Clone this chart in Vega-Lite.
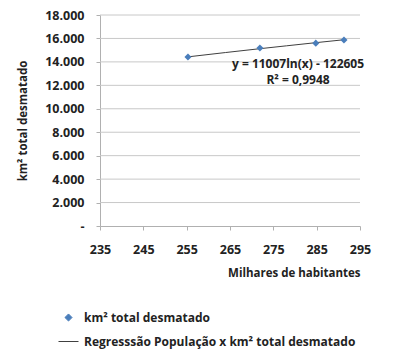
{
  "$schema": "https://vega.github.io/schema/vega-lite/v6.json",
  "autosize": "none",
  "width": 260,
  "height": 211,
  "padding": {"left": 100, "top": 15, "right": 40, "bottom": 125},
  "background": "white",
  "config": {
    "view": {"stroke": null},
    "font": "Open Sans",
    "axis": {"labelFont": "Open Sans", "labelFontWeight": "bold", "labelFontSize": 12.5, "labelColor": "#222", "titleFont": "Open Sans", "titleFontWeight": "bold", "titleFontSize": 11.5, "titleColor": "#222", "domainColor": "#b0b0b0", "tickColor": "#b0b0b0", "labelOverlap": false, "labelFlush": false, "grid": false}
  },
  "datasets": {
    "gridv": [
      {"km2": 2000}, {"km2": 4000}, {"km2": 6000}, {"km2": 8000}, {"km2": 10000},
      {"km2": 12000}, {"km2": 14000}, {"km2": 16000}, {"km2": 18000}
    ],
    "obs": [
      {"pop": 255.3, "km2": 14420, "series": "km² total desmatado"},
      {"pop": 271.9, "km2": 15190, "series": "km² total desmatado"},
      {"pop": 284.8, "km2": 15600, "series": "km² total desmatado"},
      {"pop": 291.3, "km2": 15870, "series": "km² total desmatado"}
    ],
    "fit": [
      {"pop": 255.3, "km2": 14430, "series": "Regresssão População x km² total desmatado"},
      {"pop": 264.0, "km2": 14799, "series": "Regresssão População x km² total desmatado"},
      {"pop": 271.9, "km2": 15126, "series": "Regresssão População x km² total desmatado"},
      {"pop": 278.0, "km2": 15370, "series": "Regresssão População x km² total desmatado"},
      {"pop": 284.8, "km2": 15640, "series": "Regresssão População x km² total desmatado"},
      {"pop": 291.3, "km2": 15889, "series": "Regresssão População x km² total desmatado"}
    ],
    "annot": [
      {"t": "y = 11007ln(x) - 122605", "pop": 280.7, "km2": 13820},
      {"t": "R² = 0,9948", "pop": 280.7, "km2": 12455}
    ]
  },
  "layer": [
    {
      "data": {"name": "gridv"},
      "mark": {"type": "rule", "color": "#c8c8c8", "strokeWidth": 1},
      "encoding": {
        "y": {"field": "km2", "type": "quantitative", "scale": {"domain": [0, 18000], "nice": false},
          "axis": {"values": [0, 2000, 4000, 6000, 8000, 10000, 12000, 14000, 16000, 18000], "tickSize": 4, "labelPadding": 12, "labelOverlap": false,
            "labelExpr": "datum.value == 0 ? '-' : replace(format(datum.value, ','), ',', '.')",
            "title": "km² total desmatado", "titlePadding": 16}}
      }
    },
    {
      "data": {"name": "fit"},
      "mark": {"type": "line", "strokeWidth": 1},
      "encoding": {
        "x": {"field": "pop", "type": "quantitative", "scale": {"domain": [235, 295], "nice": false, "zero": false},
          "axis": {"values": [235, 245, 255, 265, 275, 285, 295], "tickSize": 4, "labelPadding": 13, "labelOverlap": false, "title": "Milhares de habitantes", "titleAnchor": "end", "titlePadding": 12}},
        "y": {"field": "km2", "type": "quantitative",
          "axis": {"values": [0, 2000, 4000, 6000, 8000, 10000, 12000, 14000, 16000, 18000], "tickSize": 4, "labelPadding": 12, "labelOverlap": false,
            "labelExpr": "datum.value == 0 ? '-' : replace(format(datum.value, ','), ',', '.')",
            "title": "km² total desmatado", "titlePadding": 16}},
        "color": {"field": "series", "type": "nominal",
          "scale": {"domain": ["km² total desmatado", "Regresssão População x km² total desmatado"], "range": ["#4A7EBB", "#404040"]},
          "legend": {"title": null, "orient": "none", "legendX": -42, "legendY": 292, "direction": "vertical", "padding": 0,
            "labelFont": "Open Sans", "labelFontWeight": "bold", "labelFontSize": 12, "labelColor": "#222", "labelLimit": 400, "symbolSize": 60, "rowPadding": 7, "labelOffset": 5, "symbolStrokeWidth": 1,
            "encode": {"symbols": {"update": {"size": {"signal": "datum.value == 'km² total desmatado' ? 50 : 400"}}}}}}
      }
    },
    {
      "data": {"name": "obs"},
      "mark": {"type": "point", "filled": true, "size": 50, "opacity": 1},
      "encoding": {
        "x": {"field": "pop", "type": "quantitative",
          "axis": {"values": [235, 245, 255, 265, 275, 285, 295], "tickSize": 4, "labelPadding": 13, "labelOverlap": false, "title": "Milhares de habitantes", "titleAnchor": "end", "titlePadding": 12}},
        "y": {"field": "km2", "type": "quantitative",
          "axis": {"values": [0, 2000, 4000, 6000, 8000, 10000, 12000, 14000, 16000, 18000], "tickSize": 4, "labelPadding": 12, "labelOverlap": false,
            "labelExpr": "datum.value == 0 ? '-' : replace(format(datum.value, ','), ',', '.')",
            "title": "km² total desmatado", "titlePadding": 16}},
        "color": {"field": "series", "type": "nominal"},
        "shape": {"field": "series", "type": "nominal",
          "scale": {"domain": ["km² total desmatado", "Regresssão População x km² total desmatado"], "range": ["diamond", "stroke"]}}
      }
    },
    {
      "data": {"name": "annot"},
      "mark": {"type": "text", "fontWeight": "bold", "fontSize": 12, "color": "#222", "font": "Open Sans"},
      "encoding": {
        "x": {"field": "pop", "type": "quantitative",
          "axis": {"values": [235, 245, 255, 265, 275, 285, 295], "tickSize": 4, "labelPadding": 13, "labelOverlap": false, "title": "Milhares de habitantes", "titleAnchor": "end", "titlePadding": 12}},
        "y": {"field": "km2", "type": "quantitative",
          "axis": {"values": [0, 2000, 4000, 6000, 8000, 10000, 12000, 14000, 16000, 18000], "tickSize": 4, "labelPadding": 12, "labelOverlap": false,
            "labelExpr": "datum.value == 0 ? '-' : replace(format(datum.value, ','), ',', '.')",
            "title": "km² total desmatado", "titlePadding": 16}},
        "text": {"field": "t"}
      }
    }
  ]
}
